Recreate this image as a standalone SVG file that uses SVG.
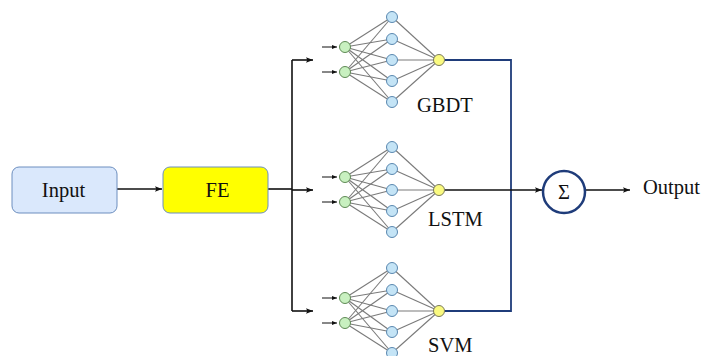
<svg xmlns="http://www.w3.org/2000/svg" xmlns:xlink="http://www.w3.org/1999/xlink" width="703" height="356" viewBox="0 0 703 356">
  <style>
    text { font-family: "Liberation Serif", "Times New Roman", serif; font-size: 20.5px; fill: #111; }
    .wire { fill: none; stroke: #111; stroke-width: 1.6; }
    .bus { fill: none; stroke: #1f3c7a; stroke-width: 1.8; }
    .syn { stroke: #7a7a7a; stroke-width: 1.1; }
    .in { fill: #c8f0c0; stroke: #5f8a55; stroke-width: 1; }
    .hid { fill: #c4e4f6; stroke: #5a88b0; stroke-width: 1; }
    .out { fill: #fafa80; stroke: #7a7a5a; stroke-width: 1; }
    .tick { stroke: #111; stroke-width: 1; }
  </style>
  <defs>
    <marker id="arr" viewBox="0 0 10 10" refX="10" refY="5" markerWidth="7" markerHeight="7" orient="auto" markerUnits="userSpaceOnUse">
      <path d="M0,1 L10,5 L0,9 L2,5 Z" fill="#111"/>
    </marker>
    <marker id="arrS" viewBox="0 0 10 10" refX="10" refY="5" markerWidth="5" markerHeight="5" orient="auto" markerUnits="userSpaceOnUse">
      <path d="M0,1 L10,5 L0,9 Z" fill="#111"/>
    </marker>
    <!-- small 2-5-1 network, origin at the output neuron's centre -->
    <g id="net">
      <g class="syn">
        <line x1="-94" y1="-13" x2="-47" y2="-43"/>
        <line x1="-94" y1="-13" x2="-47" y2="-21"/>
        <line x1="-94" y1="-13" x2="-47" y2="0"/>
        <line x1="-94" y1="-13" x2="-47" y2="21"/>
        <line x1="-94" y1="-13" x2="-47" y2="42"/>
        <line x1="-94" y1="12" x2="-47" y2="-43"/>
        <line x1="-94" y1="12" x2="-47" y2="-21"/>
        <line x1="-94" y1="12" x2="-47" y2="0"/>
        <line x1="-94" y1="12" x2="-47" y2="21"/>
        <line x1="-94" y1="12" x2="-47" y2="42"/>
        <line x1="-47" y1="-43" x2="0" y2="0"/>
        <line x1="-47" y1="-21" x2="0" y2="0"/>
        <line x1="-47" y1="0" x2="0" y2="0"/>
        <line x1="-47" y1="21" x2="0" y2="0"/>
        <line x1="-47" y1="42" x2="0" y2="0"/>
      </g>
      <line class="tick" x1="-117" y1="-13" x2="-102" y2="-13" marker-end="url(#arrS)"/>
      <line class="tick" x1="-117" y1="12" x2="-102" y2="12" marker-end="url(#arrS)"/>
      <circle class="in" cx="-94" cy="-13" r="5.5"/>
      <circle class="in" cx="-94" cy="12" r="5.5"/>
      <circle class="hid" cx="-47" cy="-43" r="5.5"/>
      <circle class="hid" cx="-47" cy="-21" r="5.5"/>
      <circle class="hid" cx="-47" cy="0" r="5.5"/>
      <circle class="hid" cx="-47" cy="21" r="5.5"/>
      <circle class="hid" cx="-47" cy="42" r="5.5"/>
      <circle class="out" cx="0" cy="0" r="5.5"/>
    </g>
  </defs>

  <!-- connectors -->
  <g id="connectors">
    <line class="wire" x1="117" y1="189" x2="162" y2="189" marker-end="url(#arr)"/>
    <polyline class="wire" points="268,189 292,189"/>
    <polyline class="wire" points="292,60 292,311"/>
    <line class="wire" x1="292" y1="60" x2="313" y2="60" marker-end="url(#arr)"/>
    <line class="wire" x1="292" y1="190" x2="313" y2="190" marker-end="url(#arr)"/>
    <line class="wire" x1="292" y1="311" x2="313" y2="311" marker-end="url(#arr)"/>
    <polyline class="bus" points="445,60 511,60 511,311 445,311"/>
    <line class="wire" x1="445" y1="190" x2="542" y2="190" marker-end="url(#arr)"/>
    <line class="wire" x1="585" y1="190" x2="630" y2="190" marker-end="url(#arr)"/>
  </g>

  <g id="input">
    <rect x="12" y="167" width="105" height="46" rx="7" fill="#dae8fc" stroke="#6c8ebf" stroke-width="1"/>
    <text x="63.5" y="197" text-anchor="middle">Input</text>
  </g>

  <g id="fe">
    <rect x="163" y="167" width="105" height="46" rx="7" fill="#ffff00" stroke="#6c8ebf" stroke-width="1"/>
    <text x="217.5" y="197" text-anchor="middle">FE</text>
  </g>

  <g id="gbdt">
    <use xlink:href="#net" transform="translate(439,60)"/>
    <text x="417" y="112">GBDT</text>
  </g>

  <g id="lstm">
    <use xlink:href="#net" transform="translate(439,190)"/>
    <text x="428" y="226">LSTM</text>
  </g>

  <g id="svm">
    <use xlink:href="#net" transform="translate(439,311)"/>
    <text x="428" y="351.5">SVM</text>
  </g>

  <g id="sum">
    <circle cx="564" cy="192" r="21" fill="#fff" stroke="#1f3c7a" stroke-width="2.5"/>
    <text x="564" y="199" text-anchor="middle" font-size="19">Σ</text>
  </g>

  <g id="output">
    <text x="643" y="194">Output</text>
  </g>
</svg>
